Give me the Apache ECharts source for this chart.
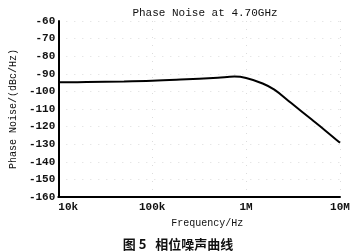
<!DOCTYPE html>
<html><head><meta charset="utf-8">
<script src="https://cdn.jsdelivr.net/npm/echarts@6/dist/echarts.min.js"></script>
<style>html,body{margin:0;padding:0;background:#fff}#c{width:357px;height:251px}</style>
</head><body><div id="c"></div>
<script>
const freqs = [1e4, 2e4, 5e4, 1e5, 2e5, 5e5, 7.5e5, 1e6, 1.5e6, 2e6, 3e6, 5e6, 7e6, 1e7];
const noise = [-94.8, -94.7, -94.4, -94, -93.3, -92.2, -91.6, -92.4, -95.5, -99, -106.5, -116, -122.3, -129.2];
const xTickLabels = {10000: '10k', 100000: '100k', 1000000: '1M', 10000000: '10M'};
const yTicks = [-160, -150, -140, -130, -120, -110, -100, -90, -80, -70, -60];

const chart = echarts.init(document.getElementById('c'), null, {renderer: 'canvas'});
const mono = '"Liberation Mono", "DejaVu Sans Mono", monospace';
chart.setOption({
  animation: false,
  backgroundColor: '#fff',
  title: [
    {text: 'Phase Noise at 4.70GHz', left: 200, top: 3, textAlign: 'center',
     textStyle: {fontFamily: mono, fontSize: 11, fontWeight: 'normal', color: '#111'}},
    {text: '图 5   相位噪声曲线', left: 173, top: 233, textAlign: 'center',
     textStyle: {fontFamily: '"Noto Sans CJK SC"', fontSize: 13, fontWeight: 'bold', color: '#111'}}
  ],
  grid: {left: 54, right: 17, top: 21, bottom: 54, containLabel: false},
  xAxis: {
    type: 'log', logBase: 10, min: 1e4, max: 1e7,
    name: 'Frequency/Hz', nameLocation: 'middle', nameGap: 21,
    nameTextStyle: {fontFamily: mono, fontSize: 10, color: '#111', padding: [0, 0, 0, 16]},
    axisLine: {lineStyle: {color: '#000', width: 2}},
    axisTick: {show: false},
    axisLabel: {fontFamily: mono, fontSize: 11, fontWeight: 'bold', color: '#111', margin: 5,
      alignMinLabel: 'left', formatter: v => xTickLabels[Math.round(v)] || ''},
    splitLine: {show: true, lineStyle: {color: '#dcdcdc', type: [1, 7], width: 1}},
    minorTick: {show: false}
  },
  yAxis: {
    type: 'value', min: -160, max: -60, interval: 10,
    name: 'Phase Noise/(dBc/Hz)', nameLocation: 'middle', nameGap: 33, nameRotate: 90,
    nameTextStyle: {fontFamily: mono, fontSize: 10, color: '#111'},
    axisLine: {show: true, lineStyle: {color: '#000', width: 2}},
    axisTick: {show: false},
    axisLabel: {fontFamily: mono, fontSize: 11, fontWeight: 'bold', color: '#111', margin: 3,
      formatter: v => yTicks.includes(v) ? String(v) : ''},
    splitLine: {show: true, lineStyle: {color: '#dcdcdc', type: [1, 7], width: 1}}
  },
  series: [{
    type: 'line', smooth: 0.4, symbol: 'none',
    lineStyle: {color: '#000', width: 2},
    data: freqs.map((f, i) => [f, noise[i]])
  }]
});
</script></body></html>
